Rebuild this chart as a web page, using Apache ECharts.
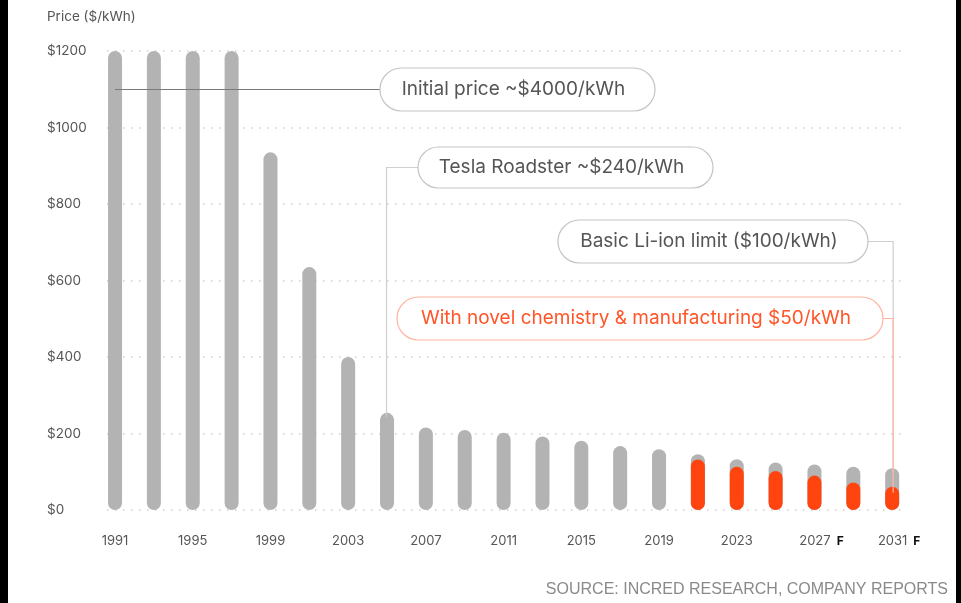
<!DOCTYPE html>
<html>
<head>
<meta charset="utf-8">
<script src="https://cdn.jsdelivr.net/npm/echarts@6/dist/echarts.min.js"></script>
<style>
  html, body { margin: 0; padding: 0; background: #ffffff; }
  #chart { width: 961px; height: 603px; }
</style>
</head>
<body>
<div id="chart"></div>
<script>
// Battery pack price, $/kWh, every second year (2021 onward is forecast)
const years = ['1991', '1993', '1995', '1997', '1999', '2001', '2003', '2005', '2007', '2009', '2011',
               '2013', '2015', '2017', '2019', '2021', '2023', '2025', '2027', '2029', '2031'];
// Basic Li-ion path (values above the $1200 axis ceiling are shown at the ceiling)
const basicLiIon = [1200, 1200, 1200, 1200, 935, 635, 400, 254, 216, 209, 202,
                    192, 181, 167, 159, 146, 133, 124, 119, 113, 109];
// With novel chemistry & manufacturing (forecast only)
const novelChem = [null, null, null, null, null, null, null, null, null, null, null,
                   null, null, null, null, 132, 113, 102, 90, 72, 61];
// Year labels that carry a forecast marker
const forecastLabels = ['2027', '2031'];
// Price axis
const priceMin = 0, priceMax = 1200, priceStep = 200;

const GREY = '#b3b3b3';
const RED = '#ff4410';
const FONT = 'Inter, "Noto Sans", sans-serif';

const chart = echarts.init(document.getElementById('chart'), null, { renderer: 'canvas' });

chart.setOption({
  animation: false,
  backgroundColor: '#ffffff',
  grid: [
    { left: 95.6, width: 816, top: 51, bottom: 93 },   // bars
    { left: 107, right: 58, top: 51, bottom: 93 }      // price scale and gridlines
  ],
  xAxis: [
    {
      gridIndex: 0,
      type: 'category',
      data: years,
      boundaryGap: true,
      axisLine: { show: false },
      axisTick: { show: false },
      splitLine: { show: false },
      axisLabel: {
        interval: 1,
        margin: 25,
        color: '#555',
        fontFamily: FONT,
        fontSize: 13,
        formatter: function (v) {
          return forecastLabels.indexOf(v) >= 0 ? '{pad|}' + v + '{f|F}' : v;
        },
        rich: {
          pad: { width: 14 },
          f: { fontWeight: 'bold', color: '#111', fontFamily: FONT, fontSize: 12, padding: [0, 0, 0, 6] }
        }
      }
    },
    { gridIndex: 1, type: 'value', show: false, min: 0, max: 1 }
  ],
  yAxis: [
    { gridIndex: 0, type: 'value', min: priceMin, max: priceMax, interval: priceStep, show: false },
    {
      gridIndex: 1,
      type: 'value',
      min: priceMin,
      max: priceMax,
      interval: priceStep,
      axisLine: { show: false },
      axisTick: { show: false },
      axisLabel: {
        margin: 60,
        align: 'left',
        color: '#555',
        fontFamily: FONT,
        fontSize: 13.5,
        formatter: function (v) { return '$' + v; }
      },
      splitLine: { show: true, lineStyle: { color: '#cfcfcf', width: 1.5, type: [1.5, 6.5] } }
    }
  ],
  series: [
    {
      name: 'Basic Li-ion',
      type: 'bar',
      xAxisIndex: 0,
      yAxisIndex: 0,
      data: basicLiIon,
      barWidth: 14,
      barGap: '-100%',
      itemStyle: { color: GREY, borderRadius: 7 },
      z: 2
    },
    {
      name: 'Novel chemistry & manufacturing',
      type: 'bar',
      xAxisIndex: 0,
      yAxisIndex: 0,
      data: novelChem,
      barWidth: 14,
      barGap: '-100%',
      itemStyle: { color: RED, borderRadius: 7 },
      z: 3
    }
  ]
});

// Callout pills and leader lines, anchored on bar positions from the chart's scales
function px(year, value) {
  return chart.convertToPixel({ xAxisIndex: 0, yAxisIndex: 0 }, [year, value]);
}

function pill(x, y, w, h, text, stroke, color) {
  return [
    {
      type: 'rect', z: 110,
      shape: { x: x, y: y, width: w, height: h, r: h / 2 },
      style: { fill: '#ffffff', stroke: stroke, lineWidth: 1.2 }
    },
    {
      type: 'text', z: 111,
      x: x + w / 2 - 4, y: y + h / 2,
      style: { text: text, fill: color, font: '19px ' + FONT, textAlign: 'center', textVerticalAlign: 'middle' }
    }
  ];
}

const last = years[years.length - 1];
const a1991 = px(years[0], 0);
const top2005 = px('2005', basicLiIon[years.indexOf('2005')]);
const topGrey = px(last, basicLiIon[years.length - 1]);
const topRed = px(last, novelChem[years.length - 1]);
const rx = topGrey[0] + 1;

const graphics = [
  // page frame
  { type: 'rect', z: 200, shape: { x: 0, y: 0, width: 8, height: 603 }, style: { fill: '#000' } },
  { type: 'rect', z: 200, shape: { x: 956, y: 0, width: 5, height: 603 }, style: { fill: '#000' } },
  // axis title
  { type: 'text', x: 47, y: 17, style: { text: 'Price ($/kWh)', fill: '#555', font: '13.5px ' + FONT, textVerticalAlign: 'middle' } },
  // leader lines
  { type: 'polyline', z: 100, shape: { points: [[a1991[0], 89.5], [380, 89.5]] },
    style: { stroke: '#7a7a7a', lineWidth: 1, fill: null } },
  { type: 'polyline', z: 100, shape: { points: [[418, 167.5], [top2005[0] - 0.5, 167.5], [top2005[0] - 0.5, top2005[1] + 4]] },
    style: { stroke: '#cfcfcf', lineWidth: 1.2, fill: null } },
  { type: 'polyline', z: 100, shape: { points: [[868, 241.5], [rx, 241.5], [rx, topGrey[1] + 4]] },
    style: { stroke: '#cfcfcf', lineWidth: 1.2, fill: null } },
  { type: 'polyline', z: 101, shape: { points: [[883, 318.5], [rx, 318.5], [rx, topRed[1] + 6]] },
    style: { stroke: '#ffb4a0', lineWidth: 1.2, fill: null } },
  // source note
  { type: 'text', x: 948, y: 590, style: { text: 'SOURCE: INCRED RESEARCH, COMPANY REPORTS', fill: '#8a8a8a',
      font: '16px "Liberation Sans", Arial, sans-serif', textAlign: 'right', textVerticalAlign: 'middle' } }
]
  .concat(pill(380, 68, 275, 43, 'Initial price ~$4000/kWh', '#c4c4c4', '#555'))
  .concat(pill(418, 147, 295, 41, 'Tesla Roadster ~$240/kWh', '#c4c4c4', '#555'))
  .concat(pill(558, 220, 310, 43, 'Basic Li-ion limit ($100/kWh)', '#c4c4c4', '#555'))
  .concat(pill(397, 297, 486, 43, 'With novel chemistry & manufacturing $50/kWh', '#ffb4a0', '#ff5528'));

chart.setOption({ graphic: graphics });
</script>
</body>
</html>
